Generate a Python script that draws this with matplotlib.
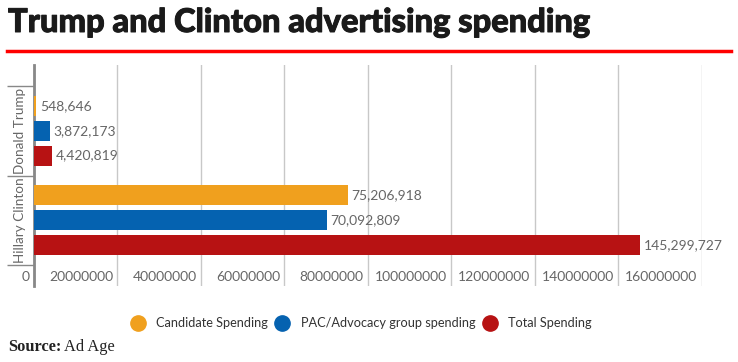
import matplotlib
matplotlib.use("Agg")
import matplotlib.pyplot as plt
import matplotlib.transforms as mtransforms
import matplotlib.patheffects as pe
from matplotlib.lines import Line2D
import numpy as np

categories = ["Donald Trump", "Hillary Clinton"]
series_names = ["Candidate Spending", "PAC/Advocacy group spending", "Total Spending"]
candidate = [548646, 75206918]
pac = [3872173, 70092809]
total = [4420819, 145299727]
xticks = [0, 20000000, 40000000, 60000000, 80000000, 100000000, 120000000, 140000000, 160000000]
colors = ["#F0A01E", "#0562B0", "#B71213"]

plt.rcParams['font.family'] = ['Lato', 'DejaVu Sans']

fig = plt.figure(figsize=(7.38, 3.62), dpi=100)
W, H = 738, 362
ax = fig.add_axes([34 / W, 1 - 286 / H, (701.7 - 34) / W, (286 - 65) / H])

series = [candidate, pac, total]
step = 25 / 90
bh = 20 / 90
y = np.arange(len(categories))
for i, (vals, col) in enumerate(zip(series, colors)):
    pos = y + (i - 1) * step
    bars = ax.barh(pos, vals, height=bh, color=col, zorder=3)
    for b, v in zip(bars, vals):
        ax.annotate(f"{v:,}", (b.get_width(), b.get_y() + b.get_height() / 2),
                    xytext=(2.5, 0), textcoords="offset points", va="center", ha="left",
                    fontsize=10, color="#666666", zorder=4)

pad = 21 / 90
ax.set_ylim(len(categories) - 0.5 + pad, -0.5 - pad)
ax.set_xlim(0, 160000000)

ax.set_xticks(xticks)
ax.set_xticklabels([str(t) for t in xticks])
ax.tick_params(axis='x', length=0, pad=-11, labelsize=10, labelcolor="#666666")
offset = mtransforms.ScaledTranslation(-3 / 72, 0, fig.dpi_scale_trans)
for lab in ax.get_xticklabels():
    lab.set_horizontalalignment('right')
    lab.set_transform(lab.get_transform() + offset)
ax.grid(axis='x', color="#c8c8c8", linewidth=1, zorder=0)

ax.set_yticks(y)
ax.set_yticklabels(categories, rotation=90, va='center')
ax.tick_params(axis='y', which='major', length=0, pad=5.5, labelsize=9.7, labelcolor="#666666")
ax.set_yticks(np.arange(len(categories) + 1) - 0.5, minor=True)
ax.tick_params(axis='y', which='minor', length=19.5, width=1, color="#888888")

for s in ['top', 'right', 'bottom']:
    ax.spines[s].set_visible(False)
ax.spines['left'].set_color("#888888")
ax.spines['left'].set_linewidth(2)

fig.text(8 / W, 1 - 32 / H, "Trump and Clinton advertising spending", fontsize=23.5,
         fontweight='black', color="#1a1a1a", va='baseline', ha='left',
         path_effects=[pe.withStroke(linewidth=0.7, foreground="#1a1a1a")])
fig.add_artist(Line2D([7 / W, 731 / W], [1 - 50.5 / H, 1 - 50.5 / H], color="#ff0000", linewidth=2.5))

handles = [Line2D([], [], marker='o', linestyle='none', markersize=11, markerfacecolor=c,
                  markeredgecolor=c) for c in colors]
fig.legend(handles, series_names, loc='center left', bbox_to_anchor=(120 / W, 1 - 323 / H),
           ncol=3, frameon=False, fontsize=9.2, handlelength=1.0, handletextpad=0.95,
           columnspacing=0.6, labelcolor="#333333")

fig.text(8 / W, 1 - 347 / H, "Source:", fontsize=11.8, fontweight='bold',
         family=['Liberation Serif', 'DejaVu Serif'], color="#222222", va='center', ha='left')
fig.text(64 / W, 1 - 347 / H, "Ad Age", fontsize=11.8,
         family=['Liberation Serif', 'DejaVu Serif'], color="#222222", va='center', ha='left')

fig.savefig("out.png", dpi=100)
